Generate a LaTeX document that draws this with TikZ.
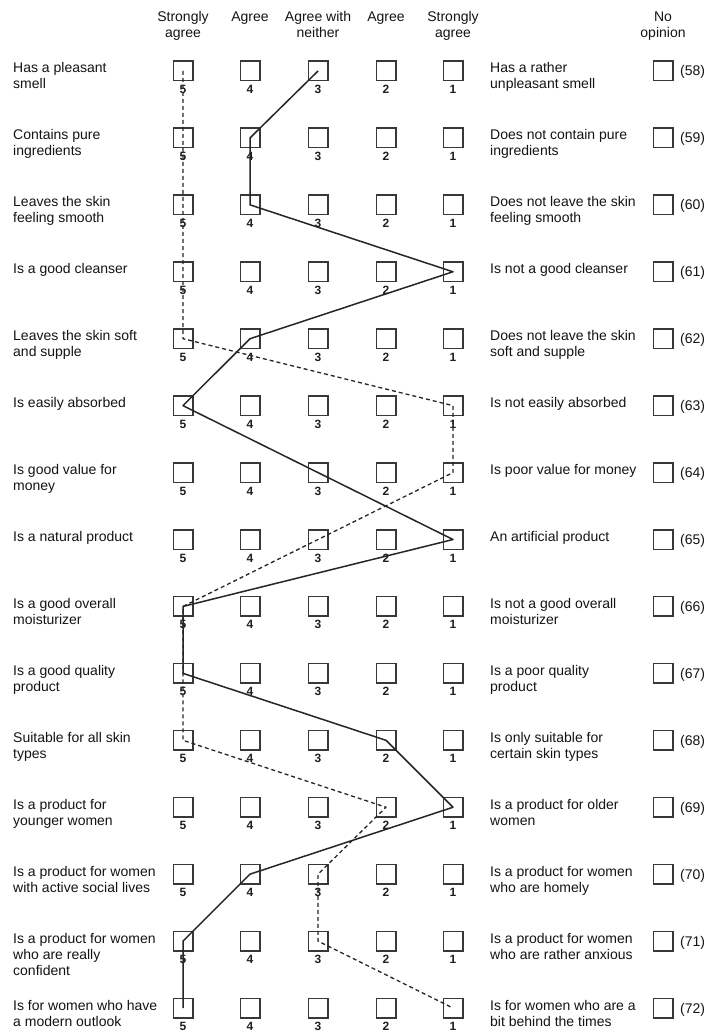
\documentclass[tikz,border=0pt]{standalone}
\usepackage{fontspec}
\setmainfont{Liberation Sans}
\newcommand{\labtxt}[1]{\parbox[t]{170pt}{\raggedright #1}}
\newcommand{\headtxt}[1]{\parbox[t]{90pt}{\centering #1}}
\begin{document}
\begin{tikzpicture}[x=1pt,y=-1pt,
  box/.style={draw=black!78,line width=1.5pt,minimum size=19.5pt,inner sep=0pt},
  num/.style={font=\fontsize{12}{12}\selectfont\bfseries,anchor=base,inner sep=0pt,text=black!88},
  lab/.style={font=\fontsize{14}{16}\selectfont,anchor=base west,inner sep=0pt,text=black!92},
  head/.style={font=\fontsize{14}{16}\selectfont,anchor=base,inner sep=0pt,text=black!92},
  solidln/.style={draw=black!85,line width=1.5pt,line join=round},
  dashln/.style={draw=black!85,line width=1.3pt,dash pattern=on 4pt off 3pt,line join=round}]
\path[use as bounding box,fill=white] (0,0) rectangle (707,1032);
% headers
\node[head] (h5) at (183,22) {\headtxt{Strongly\\agree}};
\node[head] (h4) at (250,22) {\headtxt{Agree}};
\node[head] (h3) at (318,22) {\headtxt{Agree with\\neither}};
\node[head] (h2) at (386,22) {\headtxt{Agree}};
\node[head] (h1) at (453,22) {\headtxt{Strongly\\agree}};
\node[head] (h0) at (663,22) {\headtxt{No\\opinion}};
% rows
\foreach \r/\L/\R in {
 1/{Has a pleasant\\smell}/{Has a rather\\unpleasant smell},
 2/{Contains pure\\ingredients}/{Does not contain pure\\ingredients},
 3/{Leaves the skin\\feeling smooth}/{Does not leave the skin\\feeling smooth},
 4/{Is a good cleanser}/{Is not a good cleanser},
 5/{Leaves the skin soft\\and supple}/{Does not leave the skin\\soft and supple},
 6/{Is easily absorbed}/{Is not easily absorbed},
 7/{Is good value for\\money}/{Is poor value for money},
 8/{Is a natural product}/{An artificial product},
 9/{Is a good overall\\moisturizer}/{Is not a good overall\\moisturizer},
 10/{Is a good quality\\product}/{Is a poor quality\\product},
 11/{Suitable for all skin\\types}/{Is only suitable for\\certain skin types},
 12/{Is a product for\\younger women}/{Is a product for older\\women},
 13/{Is a product for women\\with active social lives}/{Is a product for women\\who are homely},
 14/{Is a product for women\\who are really\\confident}/{Is a product for women\\who are rather anxious},
 15/{Is for women who have\\a modern outlook}/{Is for women who are a\\bit behind the times}}{
  \pgfmathsetmacro{\yy}{71+(\r-1)*66.93}
  \pgfmathtruncatemacro{\qq}{57+\r}
  \node[lab] (l\r) at (13,\yy+2) {\labtxt{\L}};
  \node[lab] (r\r) at (490,\yy+2) {\labtxt{\R}};
  \foreach \v/\xx in {5/183,4/250,3/318,2/386,1/453}{
    \node[box] (b\r-\v) at (\xx,\yy) {};
    \node[num] (n\r-\v) at (\xx,\yy+22.5) {\v};
  }
  \node[box] (o\r) at (663,\yy) {};
  \node[lab] (q\r) at (680,\yy+5) {(\qq)};
}
% profile lines
\draw[solidln] (b1-3.center) -- (b2-4.center) -- (b3-4.center) -- (b4-1.center)
  -- (b5-4.center) -- (b6-5.center) -- (b8-1.center) -- (b9-5.center)
  -- (b10-5.center) -- (b11-2.center) -- (b12-1.center) -- (b13-4.center)
  -- (b14-5.center) -- (b15-5.center);
\draw[dashln] (b1-5.center) -- (b2-5.center) -- (b3-5.center) -- (b4-5.center)
  -- (b5-5.center) -- (b6-1.center) -- (b7-1.center) -- (b9-5.center)
  -- (b10-5.center) -- (b11-5.center) -- (b12-2.center) -- (b13-3.center)
  -- (b14-3.center) -- (b15-1.center);
\end{tikzpicture}
\end{document}
